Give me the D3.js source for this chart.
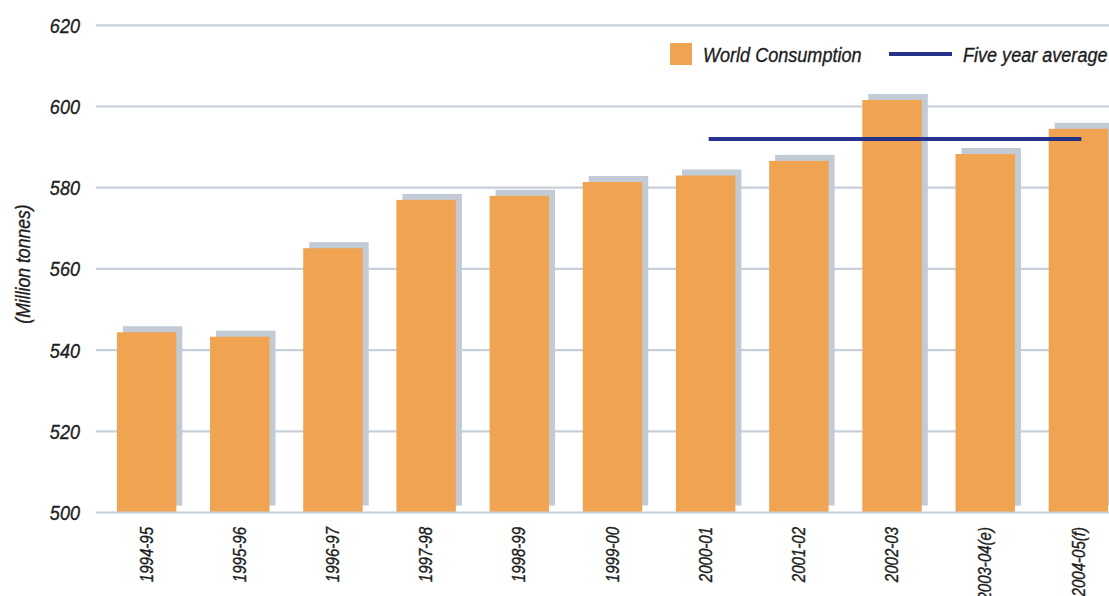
<!DOCTYPE html>
<html><head><meta charset="utf-8">
<script src="https://cdn.jsdelivr.net/npm/d3@7"></script>
<style>
body{margin:0;background:#fff;}
text{font-family:"Liberation Sans",Arial,sans-serif;font-style:italic;fill:#1c1c1c;stroke:#1c1c1c;stroke-width:0.35px;}
</style></head>
<body><svg id="c" width="1109" height="596"></svg>
<script>
const categories=["1994-95","1995-96","1996-97","1997-98","1998-99","1999-00","2000-01","2001-02","2002-03","2003-04(e)","2004-05(f)"];
const consumption=[544.4,543.3,565.1,577.0,578.0,581.4,583.0,586.6,601.6,588.3,594.5];
const avgCategories=["2000-01","2004-05(f)"];
const fiveYearAvg=[592,592];
const yTicks=[500,520,540,560,580,600,620];

const svg=d3.select("#c");
const W=1109,H=596;
const sx=0.86; // condensed look
const y=d3.scaleLinear().domain([500,620]).range([512.5,25.3]);
const x=d3.scaleBand().domain(categories).range([100,1125]).paddingInner(0.362).paddingOuter(0.181);
const off=6;

// gridlines
svg.append("g").selectAll("line").data(yTicks.filter(d=>d>500)).join("line")
 .attr("x1",96).attr("x2",W).attr("y1",d=>y(d)).attr("y2",d=>y(d))
 .attr("stroke","#c7cfd9").attr("stroke-width",2.2);

// y labels
svg.append("g").selectAll("text").data(yTicks).join("text")
 .attr("transform",d=>`translate(80,${y(d)}) scale(${sx},1)`).attr("dy","0.36em").attr("text-anchor","end")
 .style("font-size","21px").text(d=>d);

// y title
svg.append("text").attr("transform",`translate(30,264) rotate(-90) scale(${sx},1)`)
 .attr("text-anchor","middle").style("font-size","20.5px").text("(Million tonnes)");

// shadows
svg.append("g").selectAll("rect").data(consumption).join("rect")
 .attr("x",(d,i)=>x(categories[i])+off).attr("y",d=>y(d)-off)
 .attr("width",x.bandwidth()).attr("height",d=>y(500)-y(d)-1)
 .attr("fill","#c2cad6");
// bars
svg.append("g").selectAll("rect").data(consumption).join("rect")
 .attr("x",(d,i)=>x(categories[i])).attr("y",d=>y(d))
 .attr("width",x.bandwidth()).attr("height",d=>y(500)-y(d))
 .attr("fill","#f0a452");

// baseline
svg.append("line").attr("x1",96).attr("x2",W).attr("y1",y(500)).attr("y2",y(500))
 .attr("stroke","#c7cfd9").attr("stroke-width",2.2);

// x labels
svg.append("g").selectAll("text").data(categories).join("text")
 .attr("transform",d=>`translate(${x(d)+x.bandwidth()/2},527) rotate(-90) scale(${sx},1)`)
 .attr("dy","0.35em").attr("text-anchor","end").style("font-size","17.5px").text(d=>d);

// five-year average line
const cx=d=>x(d)+(x.bandwidth()+off)/2;
svg.append("line")
 .attr("x1",cx(avgCategories[0])).attr("x2",cx(avgCategories[1]))
 .attr("y1",y(fiveYearAvg[0])).attr("y2",y(fiveYearAvg[1]))
 .attr("stroke","#26338a").attr("stroke-width",4);

// legend
svg.append("rect").attr("x",670).attr("y",43).attr("width",22).attr("height",22).attr("fill","#f0a452");
svg.append("text").attr("transform",`translate(703,62) scale(${sx},1)`).style("font-size","21px").text("World Consumption");
svg.append("line").attr("x1",889).attr("x2",952).attr("y1",54).attr("y2",54).attr("stroke","#26338a").attr("stroke-width",4);
svg.append("text").attr("transform",`translate(963,62) scale(${sx},1)`).style("font-size","21px").text("Five year average");
</script></body></html>
